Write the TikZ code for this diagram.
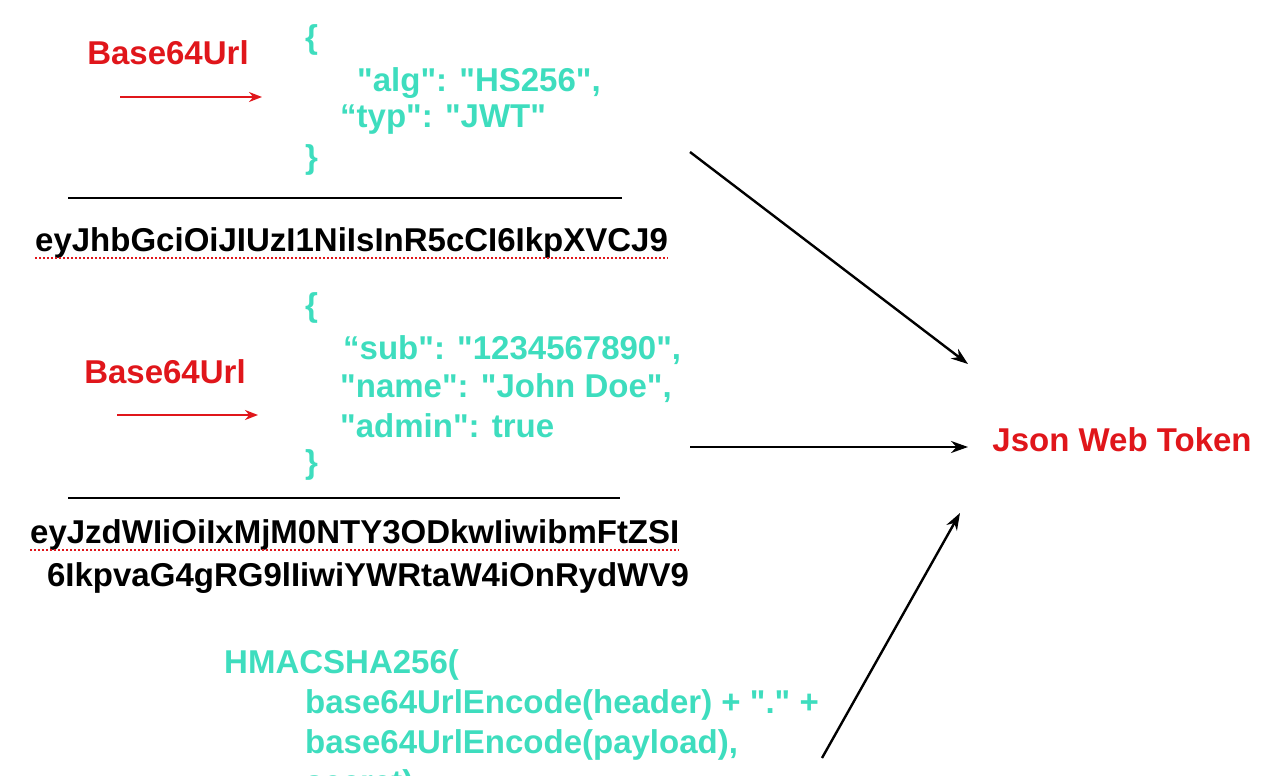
\documentclass[tikz,border=0pt]{standalone}
\usepackage{fontspec}
\setmainfont{Liberation Sans}
\usetikzlibrary{arrows.meta}
\definecolor{tq}{HTML}{3EDDBE}
\definecolor{rd}{HTML}{E0161B}
\newcommand{\q}{\textquotedbl}
\begin{document}
\begin{tikzpicture}[x=1pt,y=-1pt,
  every node/.style={inner sep=0pt,font=\bfseries\fontsize{33}{36}\selectfont},
  tq/.style={text=tq,anchor=west},
  red/.style={text=rd},
  rarr/.style={draw=rd,line width=2.6pt,-{Stealth[length=13pt,width=10pt]}},
  barr/.style={draw=black,line width=2.4pt,-{Stealth[length=17pt,width=12pt]}},
  hash/.style={text=black,anchor=west},
  dotl/.style={draw=rd,line width=2pt,dotted}]
\useasboundingbox (0,0) rectangle (1280,776);
\node[red] (b1) at (168,53) {Base64Url};
\coordinate (a1s) at (120,97); \coordinate (a1e) at (262,97);
\draw[rarr] (a1s) -- (a1e);
\node[tq] (o1) at (305,40) {\{};
\node[tq] (l1) at (357,83) {\q alg\q: \q HS256\q,};
\node[tq] (l2) at (340,120) {“typ\q: \q JWT\q};
\node[tq] (c1) at (305,160) {\}};
\coordinate (r1a) at (68,198); \coordinate (r1b) at (622,198);
\draw[line width=2.4pt] (r1a) -- (r1b);
\node[hash] (h1) at (35,243) {eyJhbGciOiJIUzI1NiIsInR5cCI6IkpXVCJ9};
\draw[dotl] ([yshift=-6pt]h1.base west) -- ([yshift=-6pt]h1.base east);

\node[red] (b2) at (165,372) {Base64Url};
\coordinate (a2s) at (117,415); \coordinate (a2e) at (258,415);
\draw[rarr] (a2s) -- (a2e);
\node[tq] (o2) at (305,308) {\{};
\node[tq] (p1) at (343,350) {“sub\q: \q 1234567890\q,};
\node[tq] (p2) at (340,388) {\q name\q: \q John Doe\q,};
\node[tq] (p3) at (340,426) {\q admin\q: true};
\node[tq] (c2) at (305,465) {\}};
\coordinate (r2a) at (68,498); \coordinate (r2b) at (620,498);
\draw[line width=2.4pt] (r2a) -- (r2b);
\node[hash] (h2) at (30,535) {eyJzdWIiOiIxMjM0NTY3ODkwIiwibmFtZSI};
\draw[dotl] ([yshift=-6pt]h2.base west) -- ([yshift=-6pt]h2.base east);
\node[text=black] (h3) at (368,578) {6IkpvaG4gRG9lIiwiYWRtaW4iOnRydWV9};

\node[tq] (s1) at (224,665) {HMACSHA256(};
\node[tq] (s2) at (305,705) {base64UrlEncode(header) + \q.\q\ +};
\node[tq] (s3) at (305,745) {base64UrlEncode(payload),};
\node[tq] (s4) at (305,785) {secret)};

\node[red] (jwt) at (1122,440) {Json Web Token};
\coordinate (f1) at (690,152); \coordinate (t1) at (968,364);
\coordinate (f2) at (690,447); \coordinate (t2) at (968,447);
\coordinate (f3) at (822,758); \coordinate (t3) at (960,513);
\draw[barr] (f1) -- (t1);
\draw[barr] (f2) -- (t2);
\draw[barr] (f3) -- (t3);
\end{tikzpicture}
\end{document}
